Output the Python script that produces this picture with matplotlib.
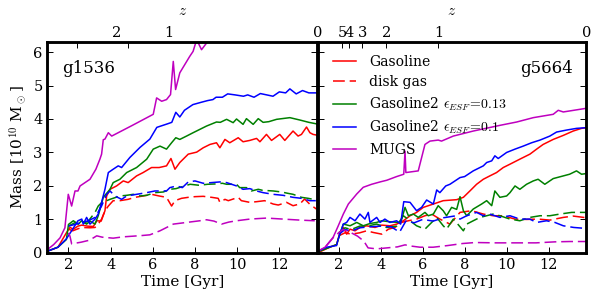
import numpy as np
import matplotlib
matplotlib.use("Agg")
import matplotlib.pyplot as plt

plt.rcParams['font.family'] = 'DejaVu Serif'
plt.rcParams['mathtext.fontset'] = 'cm'
plt.rcParams['lines.scale_dashes'] = False

# ---- g1536 (left panel) ----
g1536_mugs_t = [1.0, 1.3, 1.6, 1.83, 1.99, 2.15, 2.31, 2.45, 2.55, 3.02, 3.3, 3.49, 3.57, 3.65, 3.73,
                3.89, 4.05, 5.0, 6.02, 6.18, 6.42, 6.65, 6.84, 6.97, 7.08, 7.28, 7.75, 7.91, 8.08,
                8.31, 8.55, 9.0]
g1536_mugs_m = [0.1, 0.25, 0.45, 0.75, 1.75, 1.4, 1.85, 1.85, 2.0, 2.2, 2.5, 2.8, 2.95, 3.38, 3.4,
                3.59, 3.49, 3.8, 4.14, 4.63, 4.53, 4.58, 4.73, 5.72, 4.88, 5.38, 5.87, 6.02, 6.37,
                6.07, 6.27, 6.9]

g1536_blue_t = [1.0, 1.5, 1.9, 2.2, 2.45, 2.63, 2.7, 2.86, 3.02, 3.26, 3.41, 3.57, 3.73, 3.89, 4.12,
                4.36, 4.52, 4.91, 5.39, 5.86, 6.19, 6.67, 6.9, 7.09, 7.28, 7.5, 7.9, 8.3, 8.6, 8.85,
                9.0, 9.3, 9.55, 9.9, 10.3, 10.5, 10.8, 11.1, 11.4, 11.7, 12.0, 12.3, 12.5, 12.8,
                13.1, 13.4, 13.8]
g1536_blue_m = [0.05, 0.17, 0.42, 0.71, 0.96, 1.01, 0.86, 1.06, 0.86, 1.01, 1.16, 1.51, 1.9, 2.4, 2.5,
                2.6, 2.55, 2.85, 3.15, 3.4, 3.75, 3.85, 3.9, 4.2, 4.06, 4.26, 4.43, 4.5, 4.55, 4.58,
                4.65, 4.65, 4.75, 4.72, 4.68, 4.72, 4.65, 4.76, 4.72, 4.68, 4.81, 4.78, 4.9, 4.75,
                4.85, 4.78, 4.78]

g1536_green_t = [1.0, 1.5, 1.9, 2.0, 2.23, 2.46, 2.63, 2.86, 3.02, 3.26, 3.41, 3.65, 3.97, 4.12, 4.44,
                 4.76, 5.23, 5.71, 6.02, 6.34, 6.65, 6.89, 7.09, 7.28, 7.6, 7.91, 8.23, 8.55, 9.02,
                 9.2, 9.5, 9.81, 9.97, 10.28, 10.44, 10.76, 11.0, 11.23, 11.5, 11.87, 12.5, 12.97,
                 13.4, 13.8]
g1536_green_m = [0.05, 0.17, 0.4, 0.85, 0.96, 0.86, 0.96, 0.86, 0.95, 0.86, 1.11, 1.66, 1.9, 2.1, 2.2,
                 2.4, 2.55, 2.8, 3.1, 3.19, 3.1, 3.29, 3.44, 3.39, 3.49, 3.59, 3.69, 3.79, 3.91,
                 3.9, 3.99, 3.89, 4.0, 3.84, 4.01, 3.84, 4.01, 3.9, 3.92, 3.99, 4.04, 3.97, 3.9, 3.85]

g1536_red_t = [1.0, 1.5, 1.9, 2.07, 2.23, 2.45, 2.63, 2.9, 3.18, 3.34, 3.55, 3.73, 3.81, 3.97, 4.28,
               4.6, 4.83, 5.23, 5.54, 5.94, 6.3, 6.65, 6.86, 7.05, 7.28, 7.68, 8.08, 8.39, 8.71,
               9.02, 9.18, 9.42, 9.65, 10.05, 10.28, 10.6, 10.92, 11.08, 11.39, 11.63, 12.02,
               12.26, 12.65, 12.89, 13.05, 13.29, 13.45, 13.6, 13.76]
g1536_red_m = [0.05, 0.17, 0.6, 0.76, 0.71, 0.8, 0.83, 0.8, 0.79, 0.96, 0.95, 1.26, 1.7, 1.9, 2.0,
               2.15, 2.1, 2.3, 2.4, 2.55, 2.55, 2.6, 2.82, 2.5, 2.7, 2.95, 3.01, 3.14, 3.24,
               3.29, 3.14, 3.39, 3.29, 3.44, 3.32, 3.36, 3.42, 3.32, 3.54, 3.36, 3.54,
               3.36, 3.64, 3.49, 3.54, 3.76, 3.59, 3.54, 3.52]

g1536_blue_gas_t = [2.0, 2.3, 2.6, 2.94, 3.26, 3.57, 3.81, 3.97, 4.2, 4.52, 4.76, 5.23, 5.71, 6.1, 6.65,
                    6.81, 7.13, 7.4, 7.68, 8.0, 8.39, 8.79, 9.18, 9.5, 9.97, 10.28, 10.6, 10.92,
                    11.23, 11.71, 12.18, 12.65, 13.05, 13.45, 13.73]
g1536_blue_gas_m = [0.8, 0.85, 0.9, 0.96, 1.06, 1.4, 1.75, 1.85, 1.7, 1.6, 1.7, 1.75, 1.8, 1.85, 1.85,
                    1.95, 2.0, 1.95, 2.12, 2.15, 2.08, 2.1, 2.12, 2.1, 2.0, 1.9, 1.92, 1.85,
                    1.8, 1.75, 1.72, 1.66, 1.63, 1.56, 1.56]

g1536_green_gas_t = [2.0, 2.3, 2.6, 2.94, 3.26, 3.41, 3.57, 3.97, 4.44, 4.76, 5.07, 5.39, 5.71, 6.1,
                     6.5, 6.81, 7.1, 7.5, 7.77, 8.2, 8.6, 9.0, 9.3, 9.5, 9.97, 10.12, 10.44, 10.68,
                     11.0, 11.2, 11.71, 12.1, 12.4, 12.65, 13.05, 13.37, 13.6, 13.8]
g1536_green_gas_m = [0.8, 0.9, 0.85, 0.95, 1.21, 1.4, 1.5, 1.6, 1.7, 1.72, 1.75, 1.7, 1.72, 1.8,
                     1.82, 1.9, 1.92, 2.0, 2.05, 2.02, 2.05, 2.06, 2.08, 2.05, 2.05, 1.95, 1.95, 1.85,
                     1.9, 1.87, 1.85, 1.82, 1.78, 1.75, 1.66, 1.63, 1.6, 1.58]

g1536_red_gas_t = [2.0, 2.2, 2.45, 2.63, 3.02, 3.26, 3.41, 3.57, 3.73, 3.89, 4.12, 4.44, 4.83, 5.15,
                   5.54, 5.94, 6.3, 6.65, 6.89, 7.05, 7.36, 7.68, 8.0, 8.39, 8.79, 9.1, 9.18, 9.42,
                   9.58, 10.05, 10.2, 10.6, 10.92, 11.3, 11.71, 11.95, 12.34, 12.65, 12.97, 13.2,
                   13.45, 13.76]
g1536_red_gas_m = [0.71, 0.66, 0.72, 0.76, 0.75, 0.76, 0.86, 1.01, 1.26, 1.4, 1.56, 1.56, 1.6, 1.66,
                   1.7, 1.75, 1.7, 1.66, 1.4, 1.56, 1.63, 1.66, 1.68, 1.69, 1.66, 1.63, 1.51, 1.6,
                   1.56, 1.66, 1.56, 1.51, 1.53, 1.56, 1.46, 1.43, 1.51, 1.41, 1.46, 1.61,
                   1.45, 1.31]

g1536_mugs_gas_t = [2.0, 2.07, 2.15, 2.6, 3.0, 3.34, 3.6, 4.12, 4.6, 5.07, 5.5, 5.86, 6.34, 6.97, 7.6,
                    8.23, 8.55, 8.9, 9.26, 9.6, 9.97, 10.6, 11.39, 12.18, 12.97, 13.68]
g1536_mugs_gas_m = [0.6, 0.5, 0.27, 0.32, 0.38, 0.51, 0.47, 0.44, 0.48, 0.5, 0.52, 0.54, 0.66, 0.86,
                    0.91, 0.96, 0.99, 0.95, 0.86, 0.92, 0.96, 1.01, 1.04, 1.01, 0.98, 0.96]

# ---- g5664 (right panel) ----
g5664_mugs_t = [1.0, 1.35, 1.74, 1.98, 2.22, 2.46, 2.86, 3.17, 3.57, 3.97, 4.29, 4.76, 5.1, 5.16, 5.2,
                5.79, 6.11, 6.35, 6.74, 6.9, 7.46, 8.41, 9.68, 10.48, 11.27, 12.22, 12.46, 12.7, 13.8]
g5664_mugs_m = [0.05, 0.17, 0.47, 0.81, 1.16, 1.46, 1.76, 1.96, 2.05, 2.12, 2.17, 2.28, 2.35, 3.04, 2.4,
                2.45, 3.24, 3.34, 3.37, 3.34, 3.49, 3.64, 3.81, 3.91, 4.04, 4.14, 4.26, 4.21, 4.32]

g5664_blue_t = [1.0, 1.43, 1.9, 1.98, 2.22, 2.38, 2.54, 2.78, 3.01, 3.25, 3.41, 3.49, 3.81, 3.97, 4.2,
                4.44, 4.76, 4.95, 5.1, 5.4, 5.71, 5.95, 6.19, 6.51, 6.67, 6.82, 7.1, 7.3, 7.78, 8.0,
                8.41, 8.89, 9.05, 9.29, 9.44, 9.6, 10.0, 10.4, 10.79, 11.19, 11.59, 12.06, 12.38,
                12.86, 13.33, 13.78]
g5664_blue_m = [0.05, 0.17, 0.22, 0.42, 0.86, 0.91, 1.06, 0.96, 1.16, 1.01, 1.21, 0.91, 1.06, 0.91, 1.01,
                0.91, 0.96, 0.86, 1.53, 1.51, 1.26, 1.36, 1.58, 1.46, 1.88, 1.8, 2.0, 2.05, 2.25, 2.28,
                2.45, 2.6, 2.7, 2.75, 2.9, 2.82, 3.0, 3.1, 3.19, 3.29, 3.37, 3.49, 3.61,
                3.67, 3.72, 3.74]

g5664_green_t = [1.0, 1.5, 1.9, 2.06, 2.22, 2.54, 2.86, 3.17, 3.5, 3.81, 4.05, 4.44, 4.84, 4.98, 5.16,
                 5.32, 5.56, 5.79, 6.11, 6.27, 6.51, 6.74, 6.98, 7.14, 7.38, 7.62, 7.78, 7.94, 8.1,
                 8.41, 8.81, 9.05, 9.29, 9.44, 9.68, 10.0, 10.16, 10.4, 10.63, 10.95, 11.27, 11.5,
                 11.82, 12.22, 12.7, 13.0, 13.33, 13.57, 13.8]
g5664_green_m = [0.03, 0.15, 0.25, 0.56, 0.86, 0.81, 0.91, 0.81, 0.88, 0.91, 0.96, 0.93, 0.91, 0.96, 1.36,
                 1.11, 1.16, 1.06, 1.21, 1.11, 1.16, 1.41, 1.26, 1.11, 1.36, 1.3, 1.68, 1.26, 1.11,
                 1.31, 1.46, 1.56, 1.41, 1.85, 1.66, 1.7, 1.8, 2.0, 1.9, 2.05, 2.15, 2.2,
                 2.05, 2.22, 2.3, 2.35, 2.45, 2.35, 2.37]

g5664_red_t = [1.0, 1.5, 1.9, 2.06, 2.22, 2.38, 2.54, 2.78, 3.01, 3.33, 3.73, 4.05, 4.44, 4.76, 5.08,
               5.4, 5.71, 6.03, 6.51, 6.98, 7.62, 7.94, 8.25, 8.57, 8.89, 9.2, 9.52, 9.84, 10.16,
               10.63, 11.11, 11.43, 11.74, 12.22, 12.7, 13.17, 13.57, 13.8]
g5664_red_m = [0.0, 0.15, 0.25, 0.61, 0.76, 0.56, 0.71, 0.66, 0.76, 0.81, 0.76, 0.83, 0.81, 0.86, 0.96,
               1.11, 1.21, 1.36, 1.46, 1.56, 1.59, 1.66, 1.85, 2.05, 2.2, 2.3, 2.4, 2.55, 2.65,
               2.8, 2.95, 3.1, 3.24, 3.39, 3.51, 3.64, 3.72, 3.74]

g5664_blue_gas_t = [2.0, 2.3, 2.6, 3.0, 3.5, 4.0, 4.5, 4.9, 5.2, 5.6, 6.0, 6.5, 7.0, 7.5, 7.78, 8.1,
                    8.57, 8.89, 9.2, 9.68, 10.16, 10.63, 11.1, 11.43, 11.9, 12.3, 12.7, 13.2, 13.8]
g5664_blue_gas_m = [0.55, 0.7, 0.65, 0.75, 0.78, 0.8, 0.78, 0.62, 0.95, 0.9, 1.0, 0.95, 1.05, 1.1, 1.01,
                    1.11, 1.21, 1.11, 1.16, 1.06, 1.11, 1.01, 1.01, 0.91, 0.96, 0.91, 0.81, 0.76, 0.73]

g5664_green_gas_t = [2.0, 2.3, 2.6, 3.0, 3.5, 3.81, 4.29, 4.76, 5.08, 5.4, 5.71, 6.11, 6.35, 6.67, 6.98,
                     7.14, 7.46, 7.62, 7.94, 8.1, 8.41, 8.73, 9.05, 9.36, 9.68, 10.16, 10.63, 11.11,
                     11.59, 12.06, 12.54, 13.1, 13.8]
g5664_green_gas_m = [0.6, 0.75, 0.7, 0.8, 0.82, 0.86, 0.76, 0.8, 1.11, 0.96, 0.81, 0.71, 0.86, 1.06, 0.81,
                     0.71, 1.01, 0.9, 0.66, 0.86, 0.96, 1.06, 1.11, 1.16, 1.11, 1.01, 0.96, 1.06,
                     1.11, 1.11, 1.16, 1.21, 1.21]

g5664_red_gas_t = [2.0, 2.3, 2.6, 3.0, 3.33, 3.65, 4.05, 4.37, 4.68, 4.99, 5.32, 5.71, 6.11, 6.43, 6.82,
                   7.3, 7.78, 8.33, 8.89, 9.36, 9.84, 10.4, 10.95, 11.5, 12.06, 12.7, 13.17, 13.8]
g5664_red_gas_m = [0.51, 0.6, 0.56, 0.6, 0.66, 0.61, 0.56, 0.71, 0.76, 0.91, 0.96, 1.01, 1.11, 1.16, 1.01,
                   0.86, 1.21, 1.26, 1.16, 1.11, 1.11, 1.01, 1.0, 1.01, 0.98, 1.06, 1.1, 1.05]

g5664_mugs_gas_t = [1.4, 1.8, 2.2, 2.54, 2.9, 3.2, 3.4, 3.81, 4.3, 4.8, 5.16, 5.5, 5.87, 6.5, 7.2, 7.9,
                    8.5, 9.5, 10.4, 11.4, 12.3, 13.0, 13.8]
g5664_mugs_gas_m = [0.2, 0.5, 0.7, 0.62, 0.5, 0.35, 0.15, 0.12, 0.15, 0.18, 0.24, 0.2, 0.17, 0.17, 0.22,
                    0.28, 0.31, 0.3, 0.3, 0.3, 0.33, 0.34, 0.34]

# redshift axis on top
z_labels = ['5', '4', '3', '2', '1', '0']
z_times = [2.17, 2.5, 3.12, 4.26, 6.75, 13.8]
z_marks_left = [2.39, 4.83]

labels = ['Gasoline', 'disk gas', r'Gasoline2 $\epsilon_{ESF}\!=\!0.13$',
          r'Gasoline2 $\epsilon_{ESF}\!=\!0.1$', 'MUGS']

dash = (0, (8.5, 3.5))
lw = 1.1

fig = plt.figure(figsize=(6, 3), dpi=100)
ax1 = fig.add_axes([0.079, 0.157, 0.4498, 0.703])
ax2 = fig.add_axes([0.5295, 0.157, 0.4478, 0.703])


def draw(ax, d):
    ax.plot(d['red'][0], d['red'][1], color='r', lw=lw, label=labels[0])
    ax.plot(d['red_gas'][0], d['red_gas'][1], color='r', lw=lw, ls=dash, label=labels[1])
    ax.plot(d['green'][0], d['green'][1], color='g', lw=lw, label=labels[2])
    ax.plot(d['green_gas'][0], d['green_gas'][1], color='g', lw=lw, ls=dash)
    ax.plot(d['blue'][0], d['blue'][1], color='b', lw=lw, label=labels[3])
    ax.plot(d['blue_gas'][0], d['blue_gas'][1], color='b', lw=lw, ls=dash)
    ax.plot(d['mugs'][0], d['mugs'][1], color=(0.75, 0, 0.75), lw=lw, label=labels[4])
    ax.plot(d['mugs_gas'][0], d['mugs_gas'][1], color=(0.75, 0, 0.75), lw=lw, ls=dash)
    ax.set_xlim(1, 13.8)
    ax.set_ylim(0, 6.3)
    ax.set_xticks([2, 4, 6, 8, 10, 12])
    ax.set_yticks([0, 1, 2, 3, 4, 5, 6])
    ax.tick_params(direction='in', length=4, width=0.7, labelsize=10.5, top=False, right=True)
    for s in ax.spines.values():
        s.set_linewidth(1.8)
    ax.set_xlabel('Time [Gyr]', fontsize=11, labelpad=2)


draw(ax1, {'red': (g1536_red_t, g1536_red_m), 'red_gas': (g1536_red_gas_t, g1536_red_gas_m),
           'green': (g1536_green_t, g1536_green_m), 'green_gas': (g1536_green_gas_t, g1536_green_gas_m),
           'blue': (g1536_blue_t, g1536_blue_m), 'blue_gas': (g1536_blue_gas_t, g1536_blue_gas_m),
           'mugs': (g1536_mugs_t, g1536_mugs_m), 'mugs_gas': (g1536_mugs_gas_t, g1536_mugs_gas_m)})
draw(ax2, {'red': (g5664_red_t, g5664_red_m), 'red_gas': (g5664_red_gas_t, g5664_red_gas_m),
           'green': (g5664_green_t, g5664_green_m), 'green_gas': (g5664_green_gas_t, g5664_green_gas_m),
           'blue': (g5664_blue_t, g5664_blue_m), 'blue_gas': (g5664_blue_gas_t, g5664_blue_gas_m),
           'mugs': (g5664_mugs_t, g5664_mugs_m), 'mugs_gas': (g5664_mugs_gas_t, g5664_mugs_gas_m)})

ax1.set_ylabel(r'Mass [10$^{10}$ M$_\odot$]', fontsize=11, labelpad=4)
ax2.tick_params(labelleft=False)

ax1.text(1.68, 5.5, 'g1536', fontsize=12, ha='left', va='center')
ax2.text(13.16, 5.5, 'g5664', fontsize=12, ha='right', va='center')

ax2.legend(loc='upper left', bbox_to_anchor=(0.022, 0.985), frameon=False, fontsize=10,
           handlelength=1.6, handletextpad=1.0, labelspacing=0.45, borderaxespad=0.3)

# top redshift axes
for ax, first in ((ax1, 3), (ax2, 0)):
    top = ax.twiny()
    top.set_xlim(ax.get_xlim())
    top.set_xticks(z_times[first:])
    top.set_xticklabels(z_labels[first:])
    top.tick_params(direction='in', length=4, width=0.7, labelsize=10.5, pad=1.5)
    top.set_xlabel('$z$', fontsize=11, labelpad=8)
    for s in top.spines.values():
        s.set_linewidth(1.8)
    if ax is ax1:
        top.tick_params(which='major', length=0)
        top.set_xticks(z_marks_left, minor=True)
        top.tick_params(which='minor', direction='in', length=4, width=0.7)

fig.savefig('out.png', dpi=100)
